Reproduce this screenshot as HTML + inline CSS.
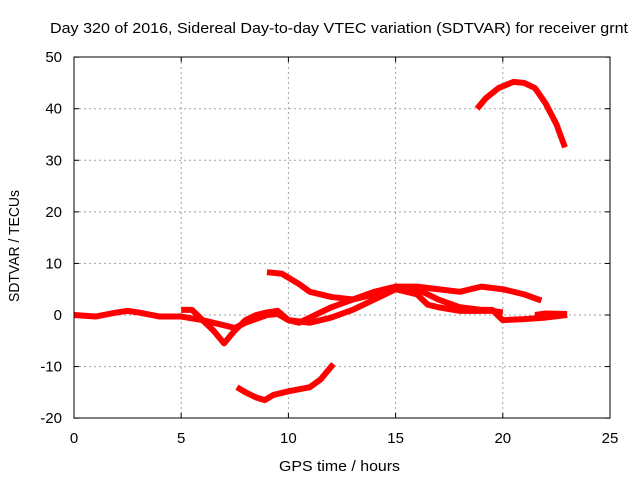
<!DOCTYPE html>
<html><head><meta charset="utf-8"><style>
body{margin:0;background:#fff}
svg text{font-family:"Liberation Sans",sans-serif;fill:#000}
</style></head><body>
<svg id="c" width="640" height="480" xmlns="http://www.w3.org/2000/svg">
<text x="50" y="33" font-size="15" textLength="578" lengthAdjust="spacingAndGlyphs">Day 320 of 2016, Sidereal Day-to-day VTEC variation (SDTVAR) for receiver grnt</text>
<text x="279" y="471" font-size="15" textLength="121" lengthAdjust="spacingAndGlyphs">GPS time / hours</text>
<text transform="translate(19,302) rotate(-90)" font-size="15" textLength="112" lengthAdjust="spacingAndGlyphs">SDTVAR / TECUs</text>
<g id="grid"></g><g id="axes"></g><g id="series"></g>
<rect x="74" y="57" width="536" height="361" fill="none" stroke="#000" stroke-width="1"/>
</svg>
<script>
const xTicks=[0,5,10,15,20,25];
const yTicks=[-20,-10,0,10,20,30,40,50];
const s1=[[0,0],[1,-0.3],[2,0.5],[2.5,0.8],[3,0.5],[4,-0.3],[5,-0.3],[6,-1],[7,-2],[7.5,-2.5],[8,-1.5],[9,0],[9.5,0.2],[10,-1],[10.5,-1.5],[11,-0.5],[12,1.5],[13,3],[14,4],[15,5.5],[16,5],[17,3],[18,1.5],[19,1],[19.5,1],[20,-1],[21,-0.8],[22,-0.5],[23,0]];
const s2=[[5,1],[5.5,1],[6,-1],[6.5,-3],[7,-5.5],[7.5,-3],[8,-1],[8.5,0],[9,0.5],[9.5,0.8],[10,-1],[11,-1.5],[12,-0.5],[13,1],[14,3],[15,5],[16,4],[16.5,2],[17,1.5],[18,0.8],[19.5,0.8],[20,0.5]];
const s3=[[9,8.3],[9.7,8],[10.5,6],[11,4.5],[12,3.5],[13,3],[14,4.5],[15,5.5],[16,5.5],[17,5],[18,4.5],[19,5.5],[20,5],[21,4],[21.8,2.8]];
const s4=[[21.5,0],[22,0.3],[23,0.2]];
const s5=[[7.6,-14],[8,-15],[8.5,-16],[8.9,-16.5],[9.3,-15.5],[10,-14.8],[11,-14],[11.5,-12.5],[12.1,-9.5]];
const s6=[[18.8,40],[19.2,42],[19.8,44],[20.5,45.2],[21,45],[21.5,44],[22,41],[22.5,37],[22.9,32.5]];
const seriesList=[s1,s2,s3,s4,s5,s6];
const X=h=>74+h*(536/25), Y=v=>315-v*(361/70);
const NS="http://www.w3.org/2000/svg";
const mk=(t,a,p)=>{const e=document.createElementNS(NS,t);for(const k in a)e.setAttribute(k,a[k]);p.appendChild(e);return e;};
const g=document.getElementById('grid'),ax=document.getElementById('axes'),sr=document.getElementById('series');
xTicks.forEach(t=>{const x=X(t);
 if(t>0&&t<25){const l=mk('line',{x1:x,x2:x,y1:57,y2:418,stroke:'#a0a0a0','stroke-dasharray':'2,3'},g);
 
 }
 mk('line',{x1:x,x2:x,y1:418,y2:413,stroke:'#000'},ax);mk('line',{x1:x,x2:x,y1:57,y2:62,stroke:'#000'},ax);
 const tx=mk('text',{x:x,y:443,'font-size':15,'text-anchor':'middle'},ax);tx.textContent=t;
 
 });
yTicks.forEach(t=>{const y=Y(t);
 if(t>-20&&t<50){const l=mk('line',{x1:74,x2:610,y1:y,y2:y,stroke:'#a0a0a0','stroke-dasharray':'2,3'},g);
 
 }
 mk('line',{x1:74,x2:79,y1:y,y2:y,stroke:'#000'},ax);mk('line',{x1:610,x2:605,y1:y,y2:y,stroke:'#000'},ax);
 const tx=mk('text',{x:62,y:y+5,'font-size':15,'text-anchor':'end'},ax);tx.textContent=t;
 
 });
seriesList.forEach(s=>{const p=mk('polyline',{points:s.map(d=>X(d[0])+','+Y(d[1])).join(' '),fill:'none',stroke:'#f00','stroke-width':6,'stroke-linejoin':'round'},sr);
 
 });
</script>
</body></html>
